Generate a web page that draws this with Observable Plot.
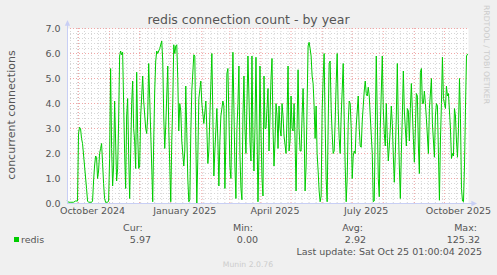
<!DOCTYPE html>
<html><head><meta charset="utf-8">
<script src="https://cdn.jsdelivr.net/npm/d3@7"></script>
<script src="https://cdn.jsdelivr.net/npm/@observablehq/plot@0.6"></script>
<style>
html,body{margin:0;padding:0;background:#f0f0f0;}
#wrap{position:relative;width:497px;height:275px;overflow:hidden;font-family:"DejaVu Sans",sans-serif;}
#wrap svg{position:absolute;left:0;top:0;}
</style></head><body><div id="wrap"></div>
<script>
const title = "redis connection count - by year";
const yLabel = "concurrent connections";
const sideText = "RRDTOOL / TOBI OETIKER";
const startDate = "2024-09-20T01:00:00Z";
const endDate = "2025-10-25T01:00:00Z";
const dayOffsets = [0,1,3,6,8,10,11,12,13,14,15,17,19,20,21,24,25,26,27,28,29,30,31,32,33,34,35,36,37,38,40,41,42,43,44,45,46,47,48,49,50,51,52,53,54,55,56,57,58,59,60,61,62,63,64,65,66,67,68,69,70,71,72,73,75,76,78,79,80,81,82,84,85,86,87,88,89,90,92,94,95,96,97,98,100,101,103,104,105,106,107,108,109,110,111,112,113,114,116,117,118,119,120,121,122,123,124,126,127,128,129,130,131,133,134,136,138,139,140,141,142,144,145,146,147,149,150,151,152,153,155,156,157,158,159,160,161,162,163,164,165,166,167,168,169,170,171,172,173,174,175,176,177,178,180,181,182,183,184,185,186,187,188,189,190,191,192,193,194,195,196,197,198,199,200,201,202,203,204,205,206,207,208,209,210,211,212,213,214,215,216,218,219,220,221,222,223,224,225,226,227,228,229,230,231,232,233,234,235,236,237,238,239,240,241,242,243,244,245,246,247,248,249,250,251,252,253,254,255,256,257,258,259,260,261,262,263,264,265,266,267,268,269,270,271,272,273,274,275,276,277,278,279,280,281,282,283,284,285,286,287,288,290,291,292,293,294,296,297,298,299,300,301,302,304,305,306,307,308,309,310,311,312,314,315,316,317,318,319,320,321,322,323,324,325,326,327,328,329,330,331,332,333,334,335,336,338,339,340,341,342,343,344,345,346,347,348,349,350,351,352,353,354,355,356,357,358,360,361,363,364,366,367,368,369,370,371,372,373,374,375,376,377,378,379,380,382,383,384,385,386,387,388,389,390,391,392,393,394,395,396,397,398,399];
const connections = [0.1,0.05,0.05,0.05,0.1,0.1,2.8,3.05,3.0,2.6,2.4,1.5,0.6,0.1,0.05,0.05,0.1,0.9,1.5,1.9,1.85,1.0,1.3,2.0,2.2,2.4,1.6,0.8,0.2,0.05,0.05,0.1,1.8,5.4,2.2,0.7,1.5,4.1,2.5,0.9,1.4,3.3,5.9,6.1,5.95,6.05,4.0,2.0,0.6,3.5,4.2,2.0,0.2,2.0,4.0,4.9,3.0,2.5,1.4,5.25,2.8,1.4,1.5,3.5,5.1,4.1,3.0,2.8,3.5,5.6,4.2,1.5,0.07,2.5,4.5,5.7,6.1,6.0,6.2,6.5,5.7,3.5,2.2,3.1,5.5,3.0,0.07,2.5,4.0,6.35,6.0,6.3,6.35,5.0,2.9,4.0,3.7,2.5,1.5,2.1,4.7,2.8,1.0,0.07,0.15,2.8,4.5,5.95,5.9,2.5,0.0,1.8,4.2,4.9,4.0,3.2,4.1,3.0,1.6,2.1,3.5,6.0,3.5,1.1,2.1,3.8,2.5,0.7,2.5,3.5,4.1,3.9,0.6,2.5,5.2,5.4,3.5,1.5,1.0,3.5,6.05,3.8,1.5,0.2,3.0,4.0,5.5,2.0,0.6,0.15,3.5,5.1,3.0,2.0,5.9,4.3,2.5,1.7,5.9,2.6,1.3,3.0,5.85,3.0,0.07,2.0,5.5,2.9,1.0,0.3,5.1,3.0,3.0,3.8,4.6,2.1,3.5,5.0,5.8,3.0,1.5,2.5,4.0,3.5,2.2,3.9,3.0,2.7,4.0,3.5,2.7,2.0,3.5,5.5,2.1,2.5,4.3,3.0,2.9,4.0,2.5,0.5,3.0,5.35,3.0,2.1,2.1,3.5,4.6,3.0,0.5,1.5,4.0,6.3,6.45,6.2,5.9,5.1,4.8,3.9,2.6,3.9,2.0,1.3,0.5,0.07,0.3,3.7,5.0,6.0,3.2,1.0,0.07,3.1,5.6,5.7,3.8,2.8,2.0,2.1,3.3,4.8,6.0,3.8,2.6,2.0,3.5,4.5,5.6,3.4,1.5,0.07,1.0,3.2,4.1,4.0,3.0,1.0,1.9,2.1,2.0,3.1,4.3,3.0,2.3,2.25,3.3,4.5,4.9,4.4,4.3,4.65,4.3,3.5,2.0,0.07,0.1,3.0,5.9,3.5,1.0,0.27,3.0,5.9,3.8,2.8,2.3,4.0,2.6,1.7,2.3,3.0,3.9,3.2,1.9,0.85,2.0,3.5,5.6,3.2,1.5,0.2,2.0,3.5,5.3,3.7,2.3,3.8,3.7,2.5,3.8,4.8,3.7,2.6,1.65,3.0,4.4,4.3,2.3,1.2,5.25,5.4,4.0,4.0,4.5,4.0,3.4,2.0,3.8,5.0,3.2,1.85,3.5,4.0,3.9,2.0,0.13,2.5,4.0,5.85,4.2,4.0,3.8,4.7,4.3,4.4,3.0,1.8,2.0,1.9,3.8,3.5,2.5,1.85,3.0,5.0,3.4,0.6,0.1,0.07,1.5,3.8,5.9,5.97];
const yTicks = [0,1,2,3,4,5,6,7];
const xLabelDates = ["2024-10-15","2025-01-15","2025-04-15","2025-07-15","2025-10-15"];
const xLabels = ["October 2024","January 2025","April 2025","July 2025","October 2025"];
const seriesName = "redis";
const legendHeaders = ["Cur:","Min:","Avg:","Max:"];
const legendValues = ["5.97","0.00","2.92","125.32"];
const lastUpdate = "Last update: Sat Oct 25 01:00:04 2025";
const footer = "Munin 2.0.76";

const t0 = new Date(startDate), t1 = new Date(endDate);
const data = dayOffsets.map((d, i) => ({date: new Date(+t0 + d * 864e5), value: connections[i]}));
const months = d3.utcMonth.range(t0, t1);
const weeks = d3.utcMonday.range(t0, t1);
const minorY = d3.range(1, 35).map(i => i / 5).filter(v => Math.abs(v - Math.round(v)) > 1e-9);
const axisCol = "#c8cff5";
const rightTri = {draw(ctx, size) { const s = Math.sqrt(size); ctx.moveTo(s, 0); ctx.lineTo(-s * 0.6, -s * 0.75); ctx.lineTo(-s * 0.6, s * 0.75); ctx.closePath(); }};
const upTri = {draw(ctx, size) { const s = Math.sqrt(size); ctx.moveTo(0, -s); ctx.lineTo(-s * 0.75, s * 0.6); ctx.lineTo(s * 0.75, s * 0.6); ctx.closePath(); }};

const plot = Plot.plot({
  width: 497, height: 275,
  marginLeft: 67, marginRight: 29, marginTop: 28, marginBottom: 72,
  style: {background: "transparent", fontFamily: "DejaVu Sans, sans-serif", fontSize: "9.5px", color: "#555"},
  x: {type: "utc", domain: [t0, t1]},
  y: {domain: [0, 7]},
  marks: [
    Plot.frame({fill: "#ffffff", stroke: null}),
    Plot.ruleY(minorY, {stroke: "#d6d6d6", strokeDasharray: "1,2"}),
    Plot.ruleX(weeks, {stroke: "#d6d6d6", strokeDasharray: "1,2", insetBottom: -2}),
    Plot.ruleY(yTicks.slice(1), {stroke: "#f2a6a6", strokeDasharray: "1,2"}),
    Plot.ruleX(months, {stroke: "#f2a6a6", strokeDasharray: "1,2", insetBottom: -2}),
    Plot.axisY(yTicks, {tickSize: 0, tickPadding: 7, tickFormat: d3.format(".1f"), label: null}),
    Plot.axisX(xLabelDates.map(d => new Date(d + "T00:00:00Z")), {tickSize: 0, tickPadding: 4, label: null,
      tickFormat: d => xLabels[xLabelDates.indexOf(d.toISOString().slice(0, 10))]}),
    Plot.line(data, {x: "date", y: "value", stroke: "#00cc00", strokeWidth: 1}),
    Plot.ruleY([0], {stroke: axisCol, insetRight: -4}),
    Plot.ruleX([t0], {stroke: axisCol, insetTop: -4}),
    Plot.dot([{x: t1, y: 0}], {x: "x", y: "y", symbol: rightTri, r: 2, fill: axisCol, stroke: null, dx: 5}),
    Plot.dot([{x: t0, y: 7}], {x: "x", y: "y", symbol: upTri, r: 2, fill: axisCol, stroke: null, dy: -5})
  ]
});
document.getElementById("wrap").appendChild(plot);

const ov = d3.select("#wrap").append("svg").attr("width", 497).attr("height", 275)
  .style("font-family", "DejaVu Sans, sans-serif");
ov.append("text").attr("x", 248.5).attr("y", 23.5).attr("text-anchor", "middle")
  .attr("font-size", 12.5).attr("fill", "#555").text(title);
ov.append("text").attr("transform", "translate(15,115) rotate(-90)").attr("text-anchor", "middle")
  .attr("font-size", 11).attr("fill", "#555").text(yLabel);
ov.append("text").attr("transform", "translate(484,5) rotate(90)").attr("text-anchor", "start")
  .attr("font-size", 7.7).attr("fill", "#cccccc").text(sideText);
const headerX = [142.7, 253, 363, 477];
const valueX = [151, 258, 366, 480];
legendHeaders.forEach((h, i) => ov.append("text").attr("x", headerX[i]).attr("y", 231).attr("text-anchor", "end")
  .attr("font-size", 9.5).attr("fill", "#555").text(h));
legendValues.forEach((v, i) => ov.append("text").attr("x", valueX[i]).attr("y", 242.7).attr("text-anchor", "end")
  .attr("font-size", 9.5).attr("fill", "#555").text(v));
ov.append("rect").attr("x", 14).attr("y", 237).attr("width", 5).attr("height", 5).attr("fill", "#00cc00");
ov.append("text").attr("x", 21).attr("y", 242.7).attr("font-size", 9.5).attr("fill", "#555").text(seriesName);
ov.append("text").attr("x", 482).attr("y", 254.5).attr("text-anchor", "end")
  .attr("font-size", 9.5).attr("fill", "#555").text(lastUpdate);
ov.append("text").attr("x", 248).attr("y", 267).attr("text-anchor", "middle")
  .attr("font-size", 7.7).attr("fill", "#cccccc").text(footer);
</script></body></html>
